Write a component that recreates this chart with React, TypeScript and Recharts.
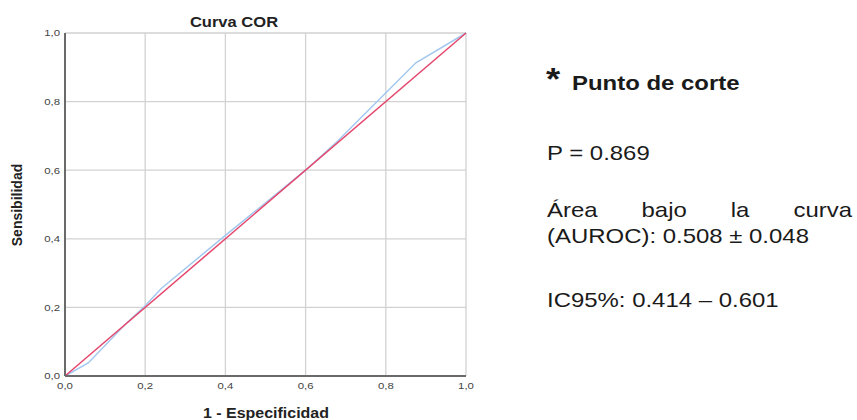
import { LineChart, Line, XAxis, YAxis, CartesianGrid } from 'recharts'

// ROC curve points (1 - especificidad, sensibilidad)
const rocX = [0, 0.058, 0.15, 0.2, 0.24, 0.4, 0.6, 0.68, 0.875, 1]
const rocY = [0, 0.038, 0.15, 0.205, 0.255, 0.41, 0.6, 0.685, 0.913, 1]
// diagonal reference line
const refX = [0, 1]
const refY = [0, 1]
const axisTicks = [0, 0.2, 0.4, 0.6, 0.8, 1]

const rocData = rocX.map((x, i) => ({ x, y: rocY[i] }))
const refData = refX.map((x, i) => ({ x, y: refY[i] }))

const fmt = (v: number) => v.toFixed(1).replace('.', ',')
const font = '"Liberation Sans", Arial, sans-serif'
// the source image is slightly stretched horizontally
const SX = 1.14

const TickText = (props: any) => {
  const { x, y, payload, anchor, dy } = props
  return (
    <g transform={`translate(${x},${y}) scale(1.2,1)`}>
      <text x={0} y={0} dy={dy} textAnchor={anchor} fontSize={9.5} fill="#444" fontFamily={font}>
        {fmt(payload.value)}
      </text>
    </g>
  )
}

const line = (top: number, left: number, size: number, bold = false): React.CSSProperties => ({
  position: 'absolute',
  top,
  left,
  fontSize: size,
  lineHeight: `${size}px`,
  fontWeight: bold ? 'bold' : 'normal',
  whiteSpace: 'nowrap',
  transform: `scaleX(${SX})`,
  transformOrigin: 'left center',
})

export default function App() {
  return (
    <div style={{ position: 'absolute', left: 0, top: 0, width: 857, height: 420, background: '#fff', fontFamily: font }}>
      <LineChart width={480} height={420} margin={{ top: 33, right: 14, bottom: 0, left: 0 }}>
        <CartesianGrid stroke="#d2d2d2" strokeWidth={1.3} />
        <XAxis
          type="number"
          dataKey="x"
          domain={[0, 1]}
          ticks={axisTicks}
          height={44}
          tickLine={false}
          tickSize={0}
          tickMargin={6}
          axisLine={{ stroke: '#6a6a6a', strokeWidth: 2 }}
          tick={<TickText anchor="middle" dy="0.71em" />}
        />
        <YAxis
          type="number"
          dataKey="y"
          domain={[0, 1]}
          ticks={axisTicks}
          width={65}
          tickLine={false}
          tickSize={0}
          tickMargin={5}
          axisLine={{ stroke: '#6a6a6a', strokeWidth: 2 }}
          tick={<TickText anchor="end" dy="0.35em" />}
        />
        <Line data={rocData} dataKey="y" type="linear" stroke="#a3c8f0" strokeWidth={1.5} dot={false} isAnimationActive={false} />
        <Line data={refData} dataKey="y" type="linear" stroke="#e4466c" strokeWidth={1.5} dot={false} isAnimationActive={false} />
      </LineChart>

      <div
        style={{
          position: 'absolute', left: 134, width: 200, top: 15, textAlign: 'center', fontSize: 14.5, lineHeight: '14.5px',
          fontWeight: 'bold', color: '#222', transform: `scaleX(${SX})`,
        }}
      >
        Curva COR
      </div>
      <div
        style={{
          position: 'absolute', left: 166, width: 200, top: 406, textAlign: 'center', fontSize: 14, lineHeight: '14px',
          fontWeight: 'bold', color: '#222', transform: `scaleX(${SX})`,
        }}
      >
        1 - Especificidad
      </div>
      <div
        style={{
          position: 'absolute', left: -43, top: 198, width: 120, height: 14, lineHeight: '14px',
          textAlign: 'center', fontSize: 14, fontWeight: 'bold', color: '#222', transform: 'rotate(-90deg)',
        }}
      >
        Sensibilidad
      </div>

      <div style={{ color: '#1a1a1a' }}>
        <div style={line(63, 546, 32, true)}>*</div>
        <div style={line(72, 572, 21, true)}>Punto de corte</div>
        <div style={line(142, 547, 21)}>P = 0.869</div>
        <div style={{ ...line(199, 547, 21), width: 305 / SX, display: 'flex', justifyContent: 'space-between' }}>
          <span>Área</span><span>bajo</span><span>la</span><span>curva</span>
        </div>
        <div style={line(225, 547, 21)}>(AUROC): 0.508 ± 0.048</div>
        <div style={line(289, 547, 21)}>IC95%: 0.414 – 0.601</div>
      </div>
    </div>
  )
}
